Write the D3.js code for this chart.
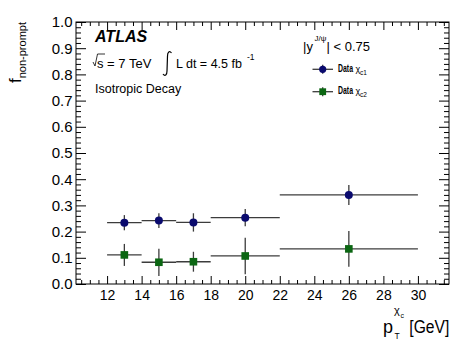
<!DOCTYPE html>
<html><head><meta charset="utf-8">
<script src="https://cdn.jsdelivr.net/npm/d3@7"></script>
<style>
body{margin:0;background:#fff}
text{font-family:"Liberation Sans",Arial,Helvetica,sans-serif;fill:#000}
</style>
</head><body>
<svg id="chart" width="474" height="340"></svg>
<script>
// pT bins of the chi_c measurement
const binLow = [12, 14, 16, 18, 22];
const binHigh = [14, 16, 18, 22, 30];
const ptCenter = [13, 15, 17, 20, 26];
// non-prompt fractions and their uncertainties
const chic1Frac = [0.234, 0.242, 0.235, 0.253, 0.340];
const chic1Err = [0.029, 0.028, 0.035, 0.033, 0.038];
const chic2Frac = [0.111, 0.083, 0.085, 0.107, 0.134];
const chic2Err = [0.042, 0.052, 0.038, 0.070, 0.068];
// axis ticks
const xMajorTicks = [12, 14, 16, 18, 20, 22, 24, 26, 28, 30];
const yMajorTicks = [0, 0.1, 0.2, 0.3, 0.4, 0.5, 0.6, 0.7, 0.8, 0.9, 1.0];

const W = 474, H = 340;
const plot = {left: 76, right: 449, top: 22, bottom: 284};
const svg = d3.select("#chart");
svg.append("rect").attr("width", W).attr("height", H).attr("fill", "#fff");

const x = d3.scaleLinear().domain([10.2, 31.8]).range([plot.left, plot.right]);
const y = d3.scaleLinear().domain([0, 1]).range([plot.bottom, plot.top]);

const xMinorTicks = d3.range(10.5, 31.8, 0.5).filter(v => Math.abs(v - Math.round(v / 2) * 2) > 1e-6);
const yMinorTicks = d3.range(0.02, 1.0, 0.02).filter(v => Math.abs(v * 10 - Math.round(v * 10)) > 1e-6);

function styleAxis(sel, size) {
  sel.select(".domain").remove();
  sel.attr("font-family", null).attr("font-size", size);
  sel.selectAll("line").attr("stroke", "#000").attr("stroke-width", 1);
  sel.selectAll("text").attr("fill", "#000");
}

// x axes (bottom with labels, top without)
svg.append("g").attr("transform", `translate(0,${plot.bottom})`)
  .call(d3.axisBottom(x).tickValues(xMajorTicks).tickSize(-8).tickPadding(6).tickFormat(d3.format("d")))
  .call(s => styleAxis(s, 14));
svg.append("g").attr("transform", `translate(0,${plot.bottom})`)
  .call(d3.axisBottom(x).tickValues(xMinorTicks).tickSize(-4).tickFormat(""))
  .call(s => styleAxis(s, 10));
svg.append("g").attr("transform", `translate(0,${plot.top})`)
  .call(d3.axisTop(x).tickValues(xMajorTicks).tickSize(-8).tickFormat(""))
  .call(s => styleAxis(s, 10));
svg.append("g").attr("transform", `translate(0,${plot.top})`)
  .call(d3.axisTop(x).tickValues(xMinorTicks).tickSize(-4).tickFormat(""))
  .call(s => styleAxis(s, 10));

// y axes (left with labels, right without)
svg.append("g").attr("transform", `translate(${plot.left},0)`)
  .call(d3.axisLeft(y).tickValues(yMajorTicks).tickSize(-10).tickPadding(3.5).tickFormat(d3.format(".1f")))
  .call(s => styleAxis(s, 15));
svg.append("g").attr("transform", `translate(${plot.left},0)`)
  .call(d3.axisLeft(y).tickValues(yMinorTicks).tickSize(-5).tickFormat(""))
  .call(s => styleAxis(s, 10));
svg.append("g").attr("transform", `translate(${plot.right},0)`)
  .call(d3.axisRight(y).tickValues(yMajorTicks).tickSize(-10).tickFormat(""))
  .call(s => styleAxis(s, 10));
svg.append("g").attr("transform", `translate(${plot.right},0)`)
  .call(d3.axisRight(y).tickValues(yMinorTicks).tickSize(-5).tickFormat(""))
  .call(s => styleAxis(s, 10));

// frame
svg.append("rect")
  .attr("x", plot.left).attr("y", plot.top)
  .attr("width", plot.right - plot.left).attr("height", plot.bottom - plot.top)
  .attr("fill", "none").attr("stroke", "#000").attr("stroke-width", 1);

// data series with error bars
const errColor = "#3c3c3c";
function drawSeries(values, errors, color, shape) {
  const rows = values.map((v, i) => ({v, e: errors[i], lo: binLow[i], hi: binHigh[i], c: ptCenter[i]}));
  const g = svg.append("g");
  g.selectAll(".hbar").data(rows).join("line")
    .attr("x1", d => x(d.lo)).attr("x2", d => x(d.hi))
    .attr("y1", d => y(d.v)).attr("y2", d => y(d.v))
    .attr("stroke", errColor).attr("stroke-width", 1.3);
  g.selectAll(".vbar").data(rows).join("line")
    .attr("x1", d => x(d.c)).attr("x2", d => x(d.c))
    .attr("y1", d => y(d.v - d.e)).attr("y2", d => y(d.v + d.e))
    .attr("stroke", errColor).attr("stroke-width", 1.3);
  if (shape === "circle") {
    g.selectAll(".mk").data(rows).join("circle")
      .attr("cx", d => x(d.c)).attr("cy", d => y(d.v)).attr("r", 4)
      .attr("fill", color);
  } else {
    g.selectAll(".mk").data(rows).join("rect")
      .attr("x", d => x(d.c) - 3.8).attr("y", d => y(d.v) - 3.8)
      .attr("width", 7.6).attr("height", 7.6)
      .attr("fill", color);
  }
}
const c1Color = "#0a0a6e", c2Color = "#0b6612";
drawSeries(chic1Frac, chic1Err, c1Color, "circle");
drawSeries(chic2Frac, chic2Err, c2Color, "square");

// axis titles
const yt = svg.append("text").attr("transform", "translate(21,22) rotate(-90)")
  .attr("text-anchor", "end");
yt.append("tspan").attr("font-size", 17).text("f");
yt.append("tspan").attr("font-size", 11).attr("dy", 5).text("non-prompt");

const xt = svg.append("g");
xt.append("text").attr("x", 383).attr("y", 333).attr("font-size", 18).text("p");
xt.append("text").attr("x", 394.5).attr("y", 338.5).attr("font-size", 8.5).text("T");
xt.append("text").attr("x", 394).attr("y", 314).attr("font-size", 11).text("χ");
xt.append("text").attr("x", 400.5).attr("y", 318).attr("font-size", 7).text("c");
xt.append("text").attr("x", 409.3).attr("y", 333).attr("font-size", 18)
  .attr("textLength", 40).attr("lengthAdjust", "spacingAndGlyphs").text("[GeV]");

// ATLAS label and run conditions
svg.append("text").attr("x", 95).attr("y", 42).attr("font-size", 16)
  .attr("font-weight", "bold").attr("font-style", "italic").text("ATLAS");
svg.append("path").attr("d", "M93,62 L95,66 L97.5,54 L105,54")
  .attr("fill", "none").attr("stroke", "#000").attr("stroke-width", 0.8);
svg.append("text").attr("x", 97).attr("y", 67.5).attr("font-size", 13).text("s = 7 TeV");
svg.append("path").attr("d", "M171.5,53 C169.5,50.5 167.5,52 167.5,56 L167,71 C167,75 165,76.5 163,74")
  .attr("fill", "none").attr("stroke", "#000").attr("stroke-width", 1.2);
svg.append("text").attr("x", 176).attr("y", 67.5).attr("font-size", 12.5).text("L dt = 4.5 fb");
svg.append("text").attr("x", 247).attr("y", 60).attr("font-size", 8.5).text("-1");
svg.append("text").attr("x", 95).attr("y", 92.5).attr("font-size", 12.5).text("Isotropic Decay");

// rapidity selection
svg.append("text").attr("x", 303).attr("y", 50.5).attr("font-size", 13).text("|y");
svg.append("text").attr("x", 314.5).attr("y", 41).attr("font-size", 8).text("J/ψ");
svg.append("text").attr("x", 326.5).attr("y", 50.5).attr("font-size", 13).text("| < 0.75");

// legend
const legendRows = [
  {label: "1", color: c1Color, shape: "circle", cy: 69.3},
  {label: "2", color: c2Color, shape: "square", cy: 91.7}
];
const lg = svg.append("g");
legendRows.forEach(r => {
  lg.append("line").attr("x1", 312.5).attr("x2", 333).attr("y1", r.cy).attr("y2", r.cy)
    .attr("stroke", errColor).attr("stroke-width", 1.3);
  lg.append("line").attr("x1", 322.7).attr("x2", 322.7).attr("y1", r.cy - 4.5).attr("y2", r.cy + 4.5)
    .attr("stroke", errColor).attr("stroke-width", 1.3);
  if (r.shape === "circle") {
    lg.append("circle").attr("cx", 322.7).attr("cy", r.cy).attr("r", 3.6).attr("fill", r.color);
  } else {
    lg.append("rect").attr("x", 319.3).attr("y", r.cy - 3.4).attr("width", 6.8).attr("height", 6.8).attr("fill", r.color);
  }
  lg.append("text").attr("x", 338).attr("y", r.cy + 2.5).attr("font-size", 10).attr("font-weight", "bold")
    .attr("textLength", 15).attr("lengthAdjust", "spacingAndGlyphs").text("Data");
  lg.append("text").attr("x", 355.5).attr("y", r.cy + 2.5).attr("font-size", 9).text("χ");
  lg.append("text").attr("x", 360).attr("y", r.cy + 5.5).attr("font-size", 6.5).text("c" + r.label);
});
</script>
</body></html>
